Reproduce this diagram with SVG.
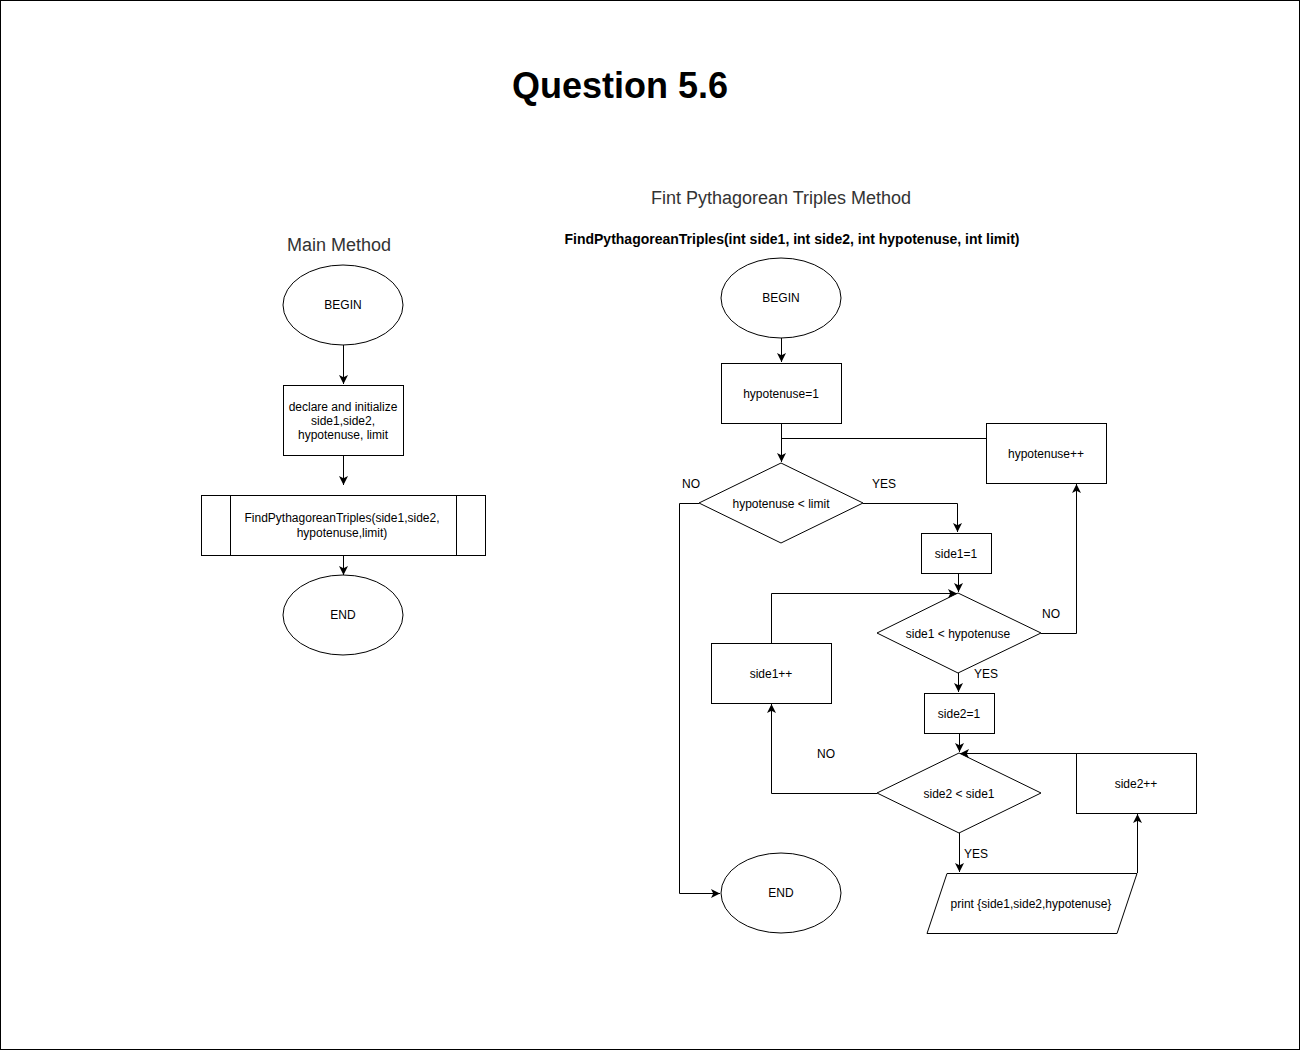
<svg xmlns="http://www.w3.org/2000/svg" width="1301" height="1051" viewBox="0 0 1301 1051">
  <style>
    .shape { fill: #ffffff; stroke: #000000; stroke-width: 1; }
    .edge { fill: none; stroke: #000000; stroke-width: 1; }
    .lbl { font-family: "Liberation Sans", Arial, sans-serif; font-size: 12px; fill: #000000; text-anchor: middle; }
    .head { font-family: "Liberation Sans", Arial, sans-serif; font-size: 18px; fill: #333333; text-anchor: middle; }
  </style>
  <defs>
    <marker id="arrow" viewBox="0 0 10 10" refX="10" refY="5" markerWidth="9" markerHeight="9" markerUnits="userSpaceOnUse" orient="auto">
      <path d="M0,0 L10,5 L0,10 L2.5,5 Z" fill="#000000"/>
    </marker>
  </defs>

  <rect x="0.5" y="0.5" width="1299" height="1049" fill="#ffffff" stroke="#000000"/>

  <text x="620" y="98" font-family="Liberation Sans, Arial, sans-serif" font-size="36" font-weight="bold" text-anchor="middle" fill="#000000">Question 5.6</text>
  <text class="head" x="339" y="251">Main Method</text>
  <text class="head" x="781" y="204">Fint Pythagorean Triples Method</text>
  <text x="792" y="244" font-family="Liberation Sans, Arial, sans-serif" font-size="14" font-weight="bold" text-anchor="middle" fill="#000000">FindPythagoreanTriples(int side1, int side2, int hypotenuse, int limit)</text>

  <!-- main method -->
  <g id="main-begin">
    <ellipse class="shape" cx="343" cy="305" rx="60" ry="40"/>
    <text class="lbl" x="343" y="309">BEGIN</text>
  </g>
  <g id="main-declare">
    <rect class="shape" x="283.5" y="385.5" width="120" height="70"/>
    <text class="lbl" x="343" y="411">declare and initialize</text>
    <text class="lbl" x="343" y="425">side1,side2,</text>
    <text class="lbl" x="343" y="439">hypotenuse, limit</text>
  </g>
  <g id="main-call">
    <rect class="shape" x="201.5" y="495.5" width="284" height="60"/>
    <line class="edge" x1="230.5" y1="495.5" x2="230.5" y2="555.5"/>
    <line class="edge" x1="456.5" y1="495.5" x2="456.5" y2="555.5"/>
    <text class="lbl" x="342" y="522">FindPythagoreanTriples(side1,side2,</text>
    <text class="lbl" x="342" y="537">hypotenuse,limit)</text>
  </g>
  <g id="main-end">
    <ellipse class="shape" cx="343" cy="615" rx="60" ry="40"/>
    <text class="lbl" x="343" y="619">END</text>
  </g>

  <!-- triples method -->
  <g id="f-begin">
    <ellipse class="shape" cx="781" cy="298" rx="60" ry="40"/>
    <text class="lbl" x="781" y="302">BEGIN</text>
  </g>
  <g id="f-hyp-init">
    <rect class="shape" x="721.5" y="363.5" width="120" height="60"/>
    <text class="lbl" x="781" y="398">hypotenuse=1</text>
  </g>
  <g id="f-hyp-inc">
    <rect class="shape" x="986.5" y="423.5" width="120" height="60"/>
    <text class="lbl" x="1046" y="458">hypotenuse++</text>
  </g>
  <g id="f-hyp-test">
    <polygon class="shape" points="781,463 863,503 781,543 699,503"/>
    <text class="lbl" x="781" y="508">hypotenuse &lt; limit</text>
  </g>
  <g id="f-side1-init">
    <rect class="shape" x="921.5" y="533.5" width="70" height="40"/>
    <text class="lbl" x="956" y="558">side1=1</text>
  </g>
  <g id="f-side1-test">
    <polygon class="shape" points="958,593 1041,633 958,673 877,633"/>
    <text class="lbl" x="958" y="638">side1 &lt; hypotenuse</text>
  </g>
  <g id="f-side1-inc">
    <rect class="shape" x="711.5" y="643.5" width="120" height="60"/>
    <text class="lbl" x="771" y="678">side1++</text>
  </g>
  <g id="f-side2-init">
    <rect class="shape" x="924.5" y="693.5" width="70" height="40"/>
    <text class="lbl" x="959" y="718">side2=1</text>
  </g>
  <g id="f-side2-test">
    <polygon class="shape" points="959,753 1041,793 959,833 877,793"/>
    <text class="lbl" x="959" y="798">side2 &lt; side1</text>
  </g>
  <g id="f-side2-inc">
    <rect class="shape" x="1076.5" y="753.5" width="120" height="60"/>
    <text class="lbl" x="1136" y="788">side2++</text>
  </g>
  <g id="f-print">
    <polygon class="shape" points="947,873.5 1137,873.5 1117,933.5 927,933.5"/>
    <text class="lbl" x="1031" y="908">print {side1,side2,hypotenuse}</text>
  </g>
  <g id="f-end">
    <ellipse class="shape" cx="781" cy="893" rx="60" ry="40"/>
    <text class="lbl" x="781" y="897">END</text>
  </g>

  <g id="connectors">
    <path class="edge" d="M343.5,345 V384" marker-end="url(#arrow)"/>
    <path class="edge" d="M343.5,455 V485" marker-end="url(#arrow)"/>
    <path class="edge" d="M343.5,555 V575" marker-end="url(#arrow)"/>

    <path class="edge" d="M781.5,338 V362" marker-end="url(#arrow)"/>
    <path class="edge" d="M781.5,423 V462" marker-end="url(#arrow)"/>
    <path class="edge" d="M986,438.5 H781.5"/>
    <path class="edge" d="M863,503.5 H957.5 V532" marker-end="url(#arrow)"/>
    <path class="edge" d="M699,503.5 H679.5 V893.5 H720" marker-end="url(#arrow)"/>
    <path class="edge" d="M958.5,573 V592" marker-end="url(#arrow)"/>
    <path class="edge" d="M1041,633.5 H1076.5 V484" marker-end="url(#arrow)"/>
    <path class="edge" d="M958.5,673 V692" marker-end="url(#arrow)"/>
    <path class="edge" d="M771.5,643 V593.5 H957" marker-end="url(#arrow)"/>
    <path class="edge" d="M959.5,733 V752" marker-end="url(#arrow)"/>
    <path class="edge" d="M877,793.5 H771.5 V704" marker-end="url(#arrow)"/>
    <path class="edge" d="M1076,753.5 H960" marker-end="url(#arrow)"/>
    <path class="edge" d="M959.5,833 V872" marker-end="url(#arrow)"/>
    <path class="edge" d="M1137.5,873 V814" marker-end="url(#arrow)"/>

    <text class="lbl" x="884" y="488">YES</text>
    <text class="lbl" x="691" y="488">NO</text>
    <text class="lbl" x="1051" y="618">NO</text>
    <text class="lbl" x="986" y="678">YES</text>
    <text class="lbl" x="826" y="758">NO</text>
    <text class="lbl" x="976" y="858">YES</text>
  </g>
</svg>
